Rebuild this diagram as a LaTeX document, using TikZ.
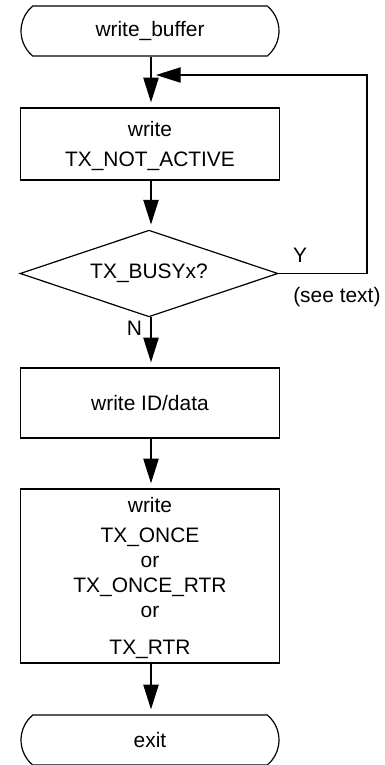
\documentclass[tikz,border=0pt]{standalone}
\usepackage{fontspec}
\setmainfont{Liberation Sans}
\usetikzlibrary{shapes.geometric,shapes.misc,positioning,arrows.meta}

\begin{document}
\begin{tikzpicture}[
  x=0.75pt, y=0.75pt,
  font=\fontsize{15.7}{18.75}\selectfont,
  >={Triangle[length=18.5pt, width=11.5pt]},
  terminal/.style={rounded rectangle, rounded rectangle arc length=100, draw=black, line width=0.9pt, minimum width=193.5pt, minimum height=37.5pt, inner sep=0pt},
  process/.style={rectangle, draw=black, line width=0.9pt, minimum width=194pt, align=center, inner sep=0pt, text depth=0pt},
  decision/.style={diamond, aspect=3, draw=black, line width=0.9pt, minimum width=193.5pt, minimum height=65pt, inner sep=0pt},
  arr/.style={->, line width=0.9pt, shorten >=3.8pt}
]
\useasboundingbox (0,0) rectangle (385,-765);

%% ============ Main column (x = 150) ============
\node[terminal] (wbuf)   at (150,-31)  {write\_buffer};
\node[process, minimum height=54pt] (notactive) at (150,-144) {write\\[3.5pt]TX\_NOT\_ACTIVE};
\node[decision] (busy)   at (149,-273.5) {TX\_BUSYx?};
\node[process, minimum height=52.5pt] (iddata) at (150,-403) {write ID/data};
\node[process, minimum height=130.5pt] (txmode) at (150,-576)
  {write\\[3.5pt]TX\_ONCE\\or\\TX\_ONCE\_RTR\\or\\[8.7pt]TX\_RTR};
\node[terminal] (exit)   at (150,-740) {exit};

%% merge point where the busy loop rejoins
\coordinate (merge) at (151,-75);

\draw[arr] (wbuf.south -| merge) -- (notactive.north -| merge);
\draw[arr] (notactive.south -| merge) -- (busy.north -| merge);
\draw[arr] (busy.south -| merge) -- (iddata.north -| merge);
\draw[arr] (iddata.south -| merge) -- (txmode.north -| merge);
\draw[arr] (txmode.south -| merge) -- (exit.north -| merge);
\node[inner sep=0pt] (nlabel) at (134.5,-328.5) {N};

%% Y branch: back up the right margin into the top arrow
\draw[arr] (busy.east) -- (367,-273.5) |- (merge);
\node[inner sep=0pt] (ylabel) at (300,-255) {Y};
\node[anchor=west, inner sep=0pt] (seetext) at (293,-297) {(see text)};

\end{tikzpicture}
\end{document}
